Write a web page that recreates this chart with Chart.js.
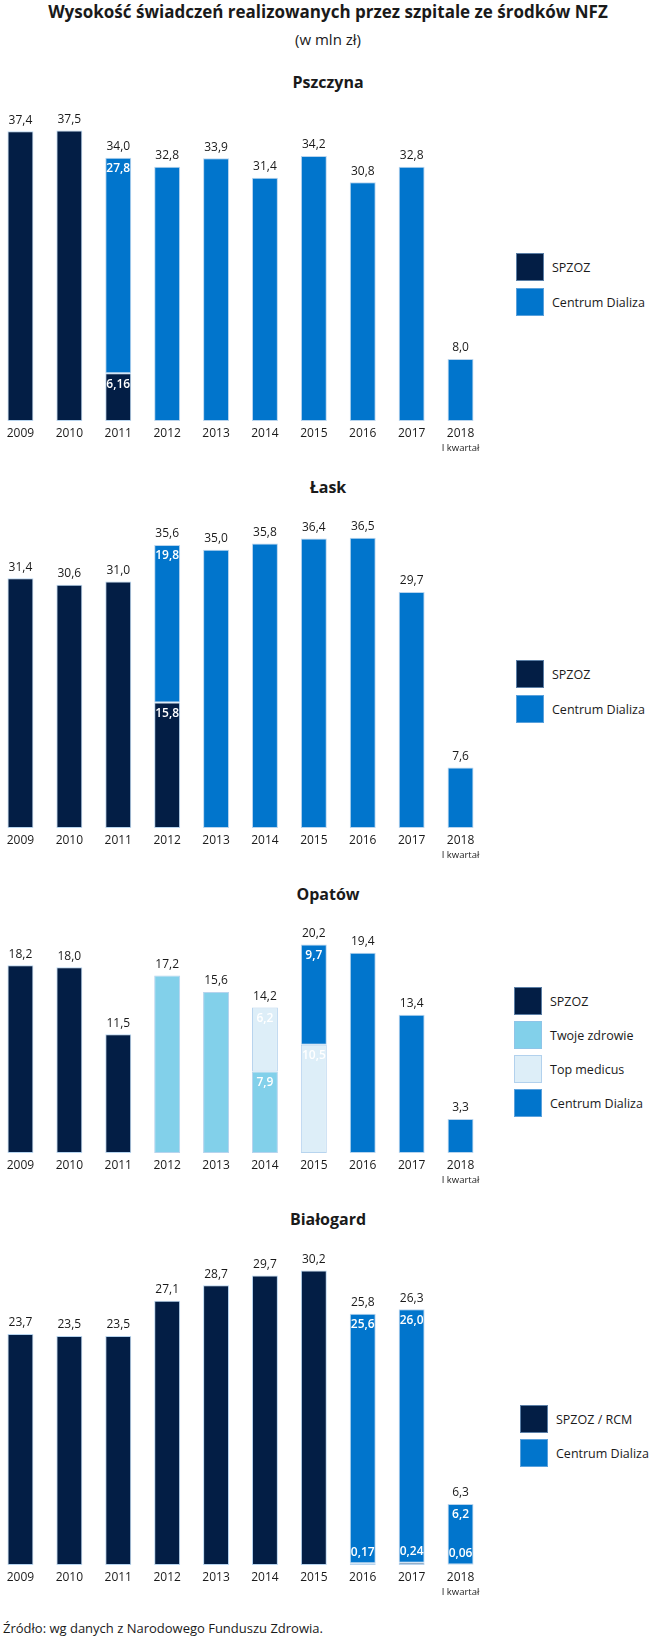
<!DOCTYPE html>
<html lang="pl">
<head>
<meta charset="utf-8">
<script src="https://cdn.jsdelivr.net/npm/chart.js@4.4.1/dist/chart.umd.min.js"></script>
<style>
  body { margin: 0; background: #fff; font-family: "Open Sans", sans-serif; color: #1a1a1a; }
  #page { position: relative; width: 650px; height: 1640px; overflow: hidden; }
  .txt { position: absolute; left: 0; width: 656px; text-align: center; white-space: nowrap; }
  .main { font-weight: 700; font-size: 17px; line-height: 22px; }
  .sub { font-size: 15px; line-height: 20px; }
  .sec { font-weight: 700; font-size: 16px; line-height: 20px; }
  .src { position: absolute; left: 3px; font-size: 13px; line-height: 16px; white-space: nowrap; }
  canvas { position: absolute; }
  .leg { position: absolute; display: flex; align-items: center; font-size: 12.5px; white-space: nowrap; }
  .leg span.box { width: 26px; height: 26px; border: 1px solid rgba(150,190,230,0.6); margin-right: 8px; }
</style>
</head>
<body>
<div id="page">
  <div class="txt main" style="top:1px">Wysokość świadczeń realizowanych przez szpitale ze środków NFZ</div>
  <div class="txt sub" style="top:29px">(w mln zł)</div>
  <div class="txt sec" style="top:72px">Pszczyna</div>
  <div class="txt sec" style="top:477px">Łask</div>
  <div class="txt sec" style="top:884px">Opatów</div>
  <div class="txt sec" style="top:1209px">Białogard</div>
  <div class="src" style="top:1620px">Źródło: wg danych z Narodowego Funduszu Zdrowia.</div>
</div>
<script>
// ── Dane (mln zł) ─────────────────────────────────────────────────────────
const years = ['2009', '2010', '2011', '2012', '2013', '2014', '2015', '2016', '2017', '2018'];
const lastNote = 'I kwartał';

const pszSpzoz   = [37.4, 37.5, 6.16, null, null, null, null, null, null, null];
const pszDializa = [null, null, 27.8, 32.8, 33.9, 31.4, 34.2, 30.8, 32.8, 8.0];
const pszTotal   = [37.4, 37.5, 34.0, 32.8, 33.9, 31.4, 34.2, 30.8, 32.8, 8.0];

const laskSpzoz   = [31.4, 30.6, 31.0, 15.8, null, null, null, null, null, null];
const laskDializa = [null, null, null, 19.8, 35.0, 35.8, 36.4, 36.5, 29.7, 7.6];
const laskTotal   = [31.4, 30.6, 31.0, 35.6, 35.0, 35.8, 36.4, 36.5, 29.7, 7.6];

const opaSpzoz   = [18.2, 18.0, 11.5, null, null, null, null, null, null, null];
const opaTwoje   = [null, null, null, 17.2, 15.6, 7.9, null, null, null, null];
const opaTop     = [null, null, null, null, null, 6.2, 10.5, null, null, null];
const opaDializa = [null, null, null, null, null, null, 9.7, 19.4, 13.4, 3.3];
const opaTotal   = [18.2, 18.0, 11.5, 17.2, 15.6, 14.2, 20.2, 19.4, 13.4, 3.3];

const bialSpzoz   = [23.7, 23.5, 23.5, 27.1, 28.7, 29.7, 30.2, 0.17, 0.24, 0.06];
const bialDializa = [null, null, null, null, null, null, null, 25.6, 26.0, 6.2];
const bialTotal   = [23.7, 23.5, 23.5, 27.1, 28.7, 29.7, 30.2, 25.8, 26.3, 6.3];

const C_SPZOZ = '#031e45';
const C_DIAL  = '#0175cc';
const C_TWOJE = '#82d0ea';
const C_TOP   = '#ddeef8';

// ── Helpers ───────────────────────────────────────────────────────────────
function fmt(v, dec) {
  if (dec === undefined) dec = Math.abs(v * 10 - Math.round(v * 10)) < 1e-6 ? 1 : 2;
  return v.toFixed(dec).replace('.', ',');
}

const valueLabels = {
  id: 'valueLabels',
  afterDatasetsDraw(chart, args, opts) {
    const { ctx } = chart;
    ctx.save();
    ctx.textAlign = 'center';
    ctx.textBaseline = 'middle';
    chart.data.labels.forEach((lab, i) => {
      const segs = [];
      chart.data.datasets.forEach((ds, d) => {
        const v = ds.data[i];
        if (v) segs.push({ v, el: chart.getDatasetMeta(d).data[i] });
      });
      if (!segs.length) return;
      const top = Math.min(...segs.map(s => s.el.y));
      ctx.font = '12px "Open Sans"';
      ctx.fillStyle = '#1a1a1a';
      ctx.fillText(fmt(opts.totals[i], 1), segs[0].el.x, top - 11);
      if (segs.length > 1) {
        ctx.font = '600 12px "Open Sans"';
        ctx.fillStyle = '#ffffff';
        segs.forEach(s => {
          const h = s.el.base - s.el.y;
          ctx.fillText(fmt(s.v), s.el.x, h < 16 ? s.el.y - 11 : s.el.y + 11);
        });
      }
    });
    // podpis pod ostatnim rokiem
    const x = chart.scales.x.getPixelForValue(chart.data.labels.length - 1);
    ctx.font = '9.5px "Open Sans"';
    ctx.fillStyle = '#1a1a1a';
    ctx.fillText(lastNote, x, chart.chartArea.bottom + 27);
    ctx.restore();
  }
};

function makeChart(top, bottom, ymax, datasets, totals) {
  const padTop = 6, padBottom = 24, axisH = 24.4;
  const h = Math.round(padTop + (bottom - top) + axisH + padBottom);
  const cv = document.createElement('canvas');
  cv.width = 489;
  cv.height = h;
  cv.style.left = '-4px';
  cv.style.top = (top - padTop) + 'px';
  cv.style.width = '489px';
  cv.style.height = h + 'px';
  document.getElementById('page').appendChild(cv);

  return new Chart(cv, {
    type: 'bar',
    data: {
      labels: years,
      datasets: datasets.map(([label, data, color]) => ({
        label, data,
        backgroundColor: color,
        borderColor: 'rgba(170,205,235,0.85)',
        borderWidth: 1,
        borderSkipped: false,
        barPercentage: 0.53,
        categoryPercentage: 1,
      })),
    },
    options: {
      responsive: false,
      animation: false,
      layout: { padding: { top: padTop, bottom: h - padTop - (bottom - top) - axisH, left: 0, right: 0 } },
      plugins: {
        legend: { display: false },
        tooltip: { enabled: false },
        valueLabels: { totals },
      },
      scales: {
        x: {
          stacked: true,
          grid: { display: false, drawTicks: false },
          border: { display: false },
          ticks: { color: '#1a1a1a', padding: 5, font: { family: 'Open Sans', size: 12 }, maxRotation: 0, autoSkip: false },
        },
        y: { stacked: true, display: false, min: 0, max: ymax },
      },
    },
    plugins: [valueLabels],
  });
}

function makeLegend(x, y, step, items) {
  items.forEach(([label, color], k) => {
    const d = document.createElement('div');
    d.className = 'leg';
    d.style.left = x + 'px';
    d.style.top = (y + k * step) + 'px';
    d.innerHTML = `<span class="box" style="background:${color}"></span><span>${label}</span>`;
    document.getElementById('page').appendChild(d);
  });
}

// ── Wykresy ───────────────────────────────────────────────────────────────
makeChart(111, 421, 40, [
  ['SPZOZ', pszSpzoz, C_SPZOZ],
  ['Centrum Dializa', pszDializa, C_DIAL],
], pszTotal);
makeLegend(516, 253, 35, [['SPZOZ', C_SPZOZ], ['Centrum Dializa', C_DIAL]]);

makeChart(510, 828, 40, [
  ['SPZOZ', laskSpzoz, C_SPZOZ],
  ['Centrum Dializa', laskDializa, C_DIAL],
], laskTotal);
makeLegend(516, 660, 35, [['SPZOZ', C_SPZOZ], ['Centrum Dializa', C_DIAL]]);

makeChart(926, 1153, 22, [
  ['SPZOZ', opaSpzoz, C_SPZOZ],
  ['Twoje zdrowie', opaTwoje, C_TWOJE],
  ['Top medicus', opaTop, C_TOP],
  ['Centrum Dializa', opaDializa, C_DIAL],
], opaTotal);
makeLegend(514, 987, 34, [['SPZOZ', C_SPZOZ], ['Twoje zdrowie', C_TWOJE], ['Top medicus', C_TOP], ['Centrum Dializa', C_DIAL]]);

makeChart(1253, 1565, 32, [
  ['SPZOZ / RCM', bialSpzoz, C_SPZOZ],
  ['Centrum Dializa', bialDializa, C_DIAL],
], bialTotal);
makeLegend(520, 1405, 34, [['SPZOZ / RCM', C_SPZOZ], ['Centrum Dializa', C_DIAL]]);
</script>
</body>
</html>
